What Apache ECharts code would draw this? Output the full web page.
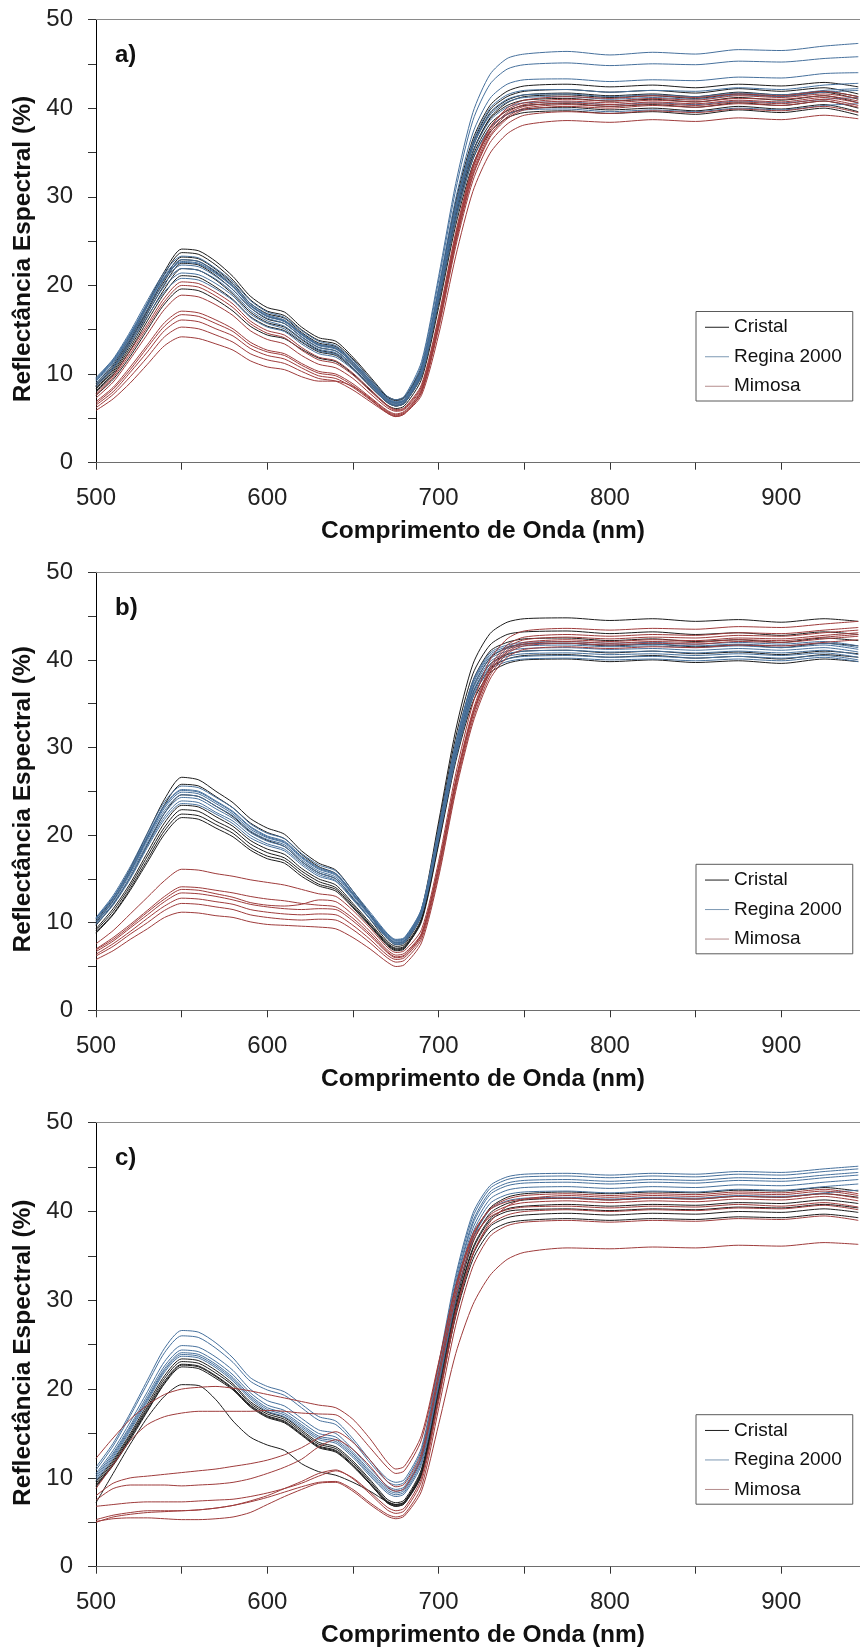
<!DOCTYPE html>
<html>
<head>
<meta charset="utf-8">
<title>Reflectância Espectral</title>
<script src="https://cdn.jsdelivr.net/npm/echarts@6/dist/echarts.min.js"></script>
<style>
    html, body { margin: 0; padding: 0; background: #fff; }
    #main { width: 860px; height: 1650px; }
</style>
</head>
<body>
<div id="main"></div>
<script>
// comprimentos de onda (nm)
var wl = [500, 510, 520, 530, 540, 550, 560, 570, 580, 590, 600, 610, 620, 630, 640, 650, 660, 670, 675, 680,
    690, 700, 710, 720, 730, 740, 750, 775, 800, 825, 850, 875, 900, 925, 945];

var xTicks = [500, 550, 600, 650, 700, 750, 800, 850, 900];
var xLabels = [500, 600, 700, 800, 900];
var yLabels = [0, 10, 20, 30, 40, 50];
var names = ['Cristal', 'Regina 2000', 'Mimosa'];
var panelLabels = ['a)', 'b)', 'c)'];

// a)
var aCristal = [
    [8.9, 11.1, 14.3, 18.0, 21.6, 24.1, 23.9, 22.7, 21.0, 18.8, 17.5, 17.0, 15.3, 14.1, 13.7, 11.9, 9.7, 7.5, 7.1, 7.4, 10.8, 19.5, 29.5, 36.5, 40.3, 41.9, 42.5, 42.7, 42.4, 42.6, 42.3, 42.7, 42.5, 42.9, 42.4],
    [8.7, 10.9, 14.0, 17.7, 21.3, 23.7, 23.5, 22.3, 20.6, 18.4, 17.1, 16.6, 15.0, 13.8, 13.4, 11.7, 9.5, 7.4, 7.0, 7.3, 10.6, 19.2, 29.0, 36.0, 39.8, 41.3, 41.9, 42.1, 41.8, 42.0, 41.7, 42.2, 41.9, 42.3, 41.6],
    [8.6, 10.7, 13.8, 17.3, 20.8, 23.2, 23.0, 21.8, 20.2, 18.0, 16.8, 16.3, 14.7, 13.5, 13.1, 11.4, 9.3, 7.2, 6.8, 7.1, 10.4, 18.9, 28.6, 35.6, 39.4, 40.9, 41.5, 41.7, 41.4, 41.6, 41.3, 41.8, 41.5, 41.9, 41.3],
    [8.4, 10.5, 13.6, 17.1, 20.5, 22.9, 22.7, 21.5, 19.9, 17.8, 16.5, 16.0, 14.5, 13.3, 12.9, 11.2, 9.1, 7.1, 6.7, 7.0, 10.2, 18.6, 28.2, 35.1, 38.8, 40.3, 40.9, 41.1, 40.8, 41.0, 40.7, 41.2, 40.9, 41.4, 40.6],
    [8.3, 10.3, 13.3, 16.8, 20.1, 22.5, 22.3, 21.1, 19.5, 17.5, 16.2, 15.7, 14.2, 13.0, 12.6, 11.0, 8.9, 6.9, 6.5, 6.8, 10.0, 18.3, 27.8, 34.6, 38.2, 39.7, 40.3, 40.5, 40.2, 40.4, 40.1, 40.6, 40.3, 40.8, 40.0],
    [8.1, 10.1, 13.0, 16.4, 19.6, 21.9, 21.7, 20.6, 19.0, 17.0, 15.8, 15.3, 13.9, 12.7, 12.3, 10.7, 8.7, 6.8, 6.4, 6.7, 9.8, 18.0, 27.4, 34.2, 37.8, 39.3, 39.9, 40.1, 39.8, 40.0, 39.7, 40.2, 39.9, 40.4, 39.6],
    [7.6, 9.4, 12.0, 15.0, 17.9, 19.6, 19.4, 18.4, 17.1, 15.4, 14.4, 14.0, 12.8, 11.8, 11.4, 10.0, 8.2, 6.5, 6.1, 6.4, 9.4, 17.5, 26.8, 33.6, 37.3, 38.9, 39.5, 39.7, 39.4, 39.6, 39.3, 39.8, 39.5, 40.0, 39.2],
    [8.0, 9.9, 12.7, 16.0, 19.1, 21.1, 20.9, 19.8, 18.4, 16.5, 15.4, 14.9, 13.6, 12.5, 12.1, 10.6, 8.6, 6.8, 6.4, 6.7, 9.9, 18.4, 28.0, 35.0, 38.9, 40.6, 41.3, 41.5, 41.2, 41.4, 41.1, 41.6, 41.3, 41.8, 41.0]
];
var aRegina = [
    [9.6, 11.7, 14.8, 18.3, 21.5, 23.3, 23.1, 21.9, 20.4, 18.3, 17.0, 16.4, 14.9, 13.7, 13.2, 11.6, 9.5, 7.5, 7.1, 7.5, 11.4, 21.0, 31.5, 39.5, 43.8, 45.6, 46.1, 46.4, 46.0, 46.3, 46.1, 46.6, 46.5, 47.0, 47.3],
    [9.5, 11.6, 14.6, 18.0, 21.2, 22.9, 22.7, 21.6, 20.1, 18.0, 16.7, 16.1, 14.6, 13.4, 13.0, 11.4, 9.3, 7.3, 6.9, 7.3, 11.1, 20.5, 30.8, 38.6, 42.7, 44.4, 44.9, 45.1, 44.8, 45.0, 44.9, 45.3, 45.2, 45.6, 45.8],
    [9.3, 11.4, 14.4, 17.8, 20.9, 22.6, 22.4, 21.3, 19.8, 17.7, 16.5, 15.9, 14.4, 13.2, 12.8, 11.2, 9.1, 7.2, 6.8, 7.1, 10.7, 19.8, 29.8, 37.2, 41.1, 42.7, 43.2, 43.3, 43.0, 43.2, 43.1, 43.5, 43.4, 43.9, 44.0],
    [9.2, 11.3, 14.2, 17.6, 20.7, 22.3, 22.1, 21.0, 19.5, 17.5, 16.3, 15.7, 14.2, 13.0, 12.6, 11.0, 9.0, 7.1, 6.7, 7.0, 10.4, 19.3, 29.0, 36.2, 40.0, 41.5, 42.0, 42.1, 41.8, 42.0, 41.9, 42.3, 42.1, 42.6, 42.8],
    [9.0, 11.1, 14.0, 17.3, 20.3, 21.9, 21.7, 20.7, 19.2, 17.2, 16.0, 15.4, 14.0, 12.8, 12.4, 10.9, 8.9, 7.0, 6.6, 6.9, 10.2, 19.0, 28.6, 35.8, 39.5, 41.0, 41.5, 41.6, 41.3, 41.5, 41.3, 41.7, 41.5, 42.0, 42.2],
    [8.8, 10.8, 13.7, 16.9, 19.9, 21.4, 21.2, 20.2, 18.8, 16.8, 15.7, 15.1, 13.7, 12.6, 12.2, 10.7, 8.8, 6.9, 6.5, 6.8, 10.0, 18.6, 28.0, 35.0, 38.6, 40.1, 40.6, 40.7, 40.4, 40.6, 40.4, 40.8, 40.6, 41.0, 41.2],
    [8.6, 10.6, 13.4, 16.5, 19.3, 20.8, 20.6, 19.6, 18.3, 16.4, 15.3, 14.8, 13.4, 12.3, 11.9, 10.5, 8.6, 6.8, 6.4, 6.7, 9.8, 18.2, 27.4, 34.3, 37.8, 39.3, 39.8, 39.9, 39.6, 39.8, 39.6, 40.0, 39.8, 40.3, 40.5],
    [9.4, 11.5, 14.5, 17.9, 21.0, 22.7, 22.5, 21.4, 19.9, 17.8, 16.6, 16.0, 14.5, 13.3, 12.9, 11.3, 9.2, 7.2, 6.8, 7.1, 10.3, 19.0, 28.5, 35.6, 39.2, 40.7, 41.2, 41.3, 41.0, 41.2, 41.0, 41.5, 41.3, 41.8, 42.0]
];
var aMimosa = [
    [7.8, 9.8, 12.6, 15.6, 18.6, 20.4, 20.2, 19.2, 17.9, 16.0, 14.9, 14.4, 13.0, 11.9, 11.5, 10.1, 8.3, 6.5, 6.0, 6.2, 8.8, 16.5, 26.0, 33.5, 37.8, 39.8, 40.6, 41.0, 40.8, 41.1, 40.9, 41.4, 41.2, 41.6, 41.1],
    [7.6, 9.6, 12.3, 15.3, 18.2, 20.0, 19.8, 18.8, 17.5, 15.7, 14.6, 14.1, 12.7, 11.6, 11.2, 9.9, 8.1, 6.4, 5.9, 6.1, 8.6, 16.2, 25.7, 33.2, 37.5, 39.5, 40.4, 40.8, 40.6, 40.9, 40.7, 41.1, 41.0, 41.4, 40.8],
    [7.3, 9.1, 11.7, 14.5, 17.3, 18.9, 18.7, 17.8, 16.6, 14.9, 13.9, 13.4, 12.1, 11.1, 10.7, 9.5, 7.8, 6.2, 5.8, 6.0, 8.4, 15.9, 25.3, 32.8, 37.2, 39.3, 40.2, 40.6, 40.4, 40.7, 40.5, 40.9, 40.7, 41.2, 40.6],
    [6.9, 8.5, 10.8, 13.3, 15.8, 17.1, 16.9, 16.1, 15.1, 13.6, 12.7, 12.3, 11.2, 10.3, 10.0, 8.9, 7.4, 5.9, 5.5, 5.8, 8.2, 15.6, 25.0, 32.5, 36.9, 39.0, 40.0, 40.4, 40.2, 40.5, 40.3, 40.7, 40.5, 41.0, 40.3],
    [6.7, 8.3, 10.5, 13.0, 15.4, 16.7, 16.5, 15.7, 14.8, 13.3, 12.5, 12.1, 11.0, 10.1, 9.8, 8.7, 7.3, 5.8, 5.4, 5.7, 8.1, 15.4, 24.8, 32.3, 36.7, 38.8, 39.8, 40.2, 40.0, 40.3, 40.1, 40.5, 40.3, 40.8, 40.1],
    [6.5, 8.0, 10.2, 12.5, 14.9, 16.1, 15.9, 15.1, 14.3, 12.9, 12.1, 11.7, 10.7, 9.8, 9.5, 8.5, 7.1, 5.7, 5.3, 5.6, 7.9, 15.1, 24.4, 31.8, 36.1, 38.2, 39.2, 39.6, 39.4, 39.7, 39.5, 39.9, 39.7, 40.2, 39.5],
    [6.2, 7.7, 9.7, 11.9, 14.2, 15.3, 15.1, 14.4, 13.6, 12.3, 11.6, 11.2, 10.3, 9.5, 9.2, 8.2, 6.9, 5.6, 5.2, 5.5, 7.6, 14.4, 23.3, 30.6, 34.9, 37.1, 38.1, 38.6, 38.4, 38.7, 38.5, 38.9, 38.7, 39.2, 38.8],
    [5.9, 7.2, 9.0, 11.1, 13.2, 14.2, 14.0, 13.4, 12.7, 11.5, 10.8, 10.5, 9.7, 9.2, 9.2, 8.6, 7.2, 5.6, 5.2, 5.5, 7.9, 15.6, 25.4, 33.2, 37.8, 40.0, 40.9, 41.3, 41.1, 41.4, 41.2, 41.6, 41.4, 41.9, 41.3]
];

// b)
var bCristal = [
    [10.2, 12.8, 16.2, 20.2, 24.1, 26.6, 26.3, 25.0, 23.7, 21.9, 20.8, 20.1, 18.2, 16.8, 16.0, 13.6, 11.0, 8.4, 7.7, 7.9, 11.5, 21.5, 32.0, 39.5, 43.0, 44.3, 44.7, 44.8, 44.5, 44.7, 44.4, 44.6, 44.3, 44.7, 44.4],
    [10.0, 12.5, 15.8, 19.7, 23.5, 25.8, 25.6, 24.4, 23.1, 21.4, 20.3, 19.6, 17.8, 16.4, 15.6, 13.3, 10.8, 8.2, 7.5, 7.7, 11.2, 21.0, 31.2, 38.4, 41.7, 42.9, 43.2, 43.3, 43.0, 43.2, 42.9, 43.1, 42.8, 43.2, 42.9],
    [9.3, 11.6, 14.5, 18.0, 21.4, 23.4, 23.2, 22.1, 21.0, 19.4, 18.4, 17.8, 16.2, 15.0, 14.3, 12.2, 10.0, 7.7, 7.1, 7.3, 10.5, 19.5, 29.2, 36.2, 39.5, 40.6, 41.0, 41.1, 40.8, 41.0, 40.7, 40.9, 40.6, 41.0, 40.7],
    [9.1, 11.3, 14.2, 17.6, 20.9, 22.9, 22.7, 21.6, 20.6, 19.0, 18.0, 17.4, 15.9, 14.7, 14.0, 12.0, 9.8, 7.6, 7.0, 7.2, 10.3, 19.2, 28.8, 35.7, 39.0, 40.1, 40.5, 40.6, 40.3, 40.5, 40.2, 40.4, 40.1, 40.6, 40.3],
    [8.9, 11.0, 13.9, 17.2, 20.5, 22.4, 22.2, 21.2, 20.2, 18.6, 17.6, 17.1, 15.6, 14.4, 13.8, 11.8, 9.7, 7.5, 6.9, 7.1, 10.1, 18.9, 28.4, 35.2, 38.5, 39.6, 40.0, 40.1, 39.8, 40.0, 39.7, 39.9, 39.6, 40.1, 39.8],
    [8.8, 10.9, 13.7, 16.9, 20.1, 22.0, 21.8, 20.8, 19.8, 18.3, 17.3, 16.8, 15.3, 14.2, 13.6, 11.7, 9.6, 7.4, 6.8, 7.0, 10.3, 19.6, 29.6, 36.8, 40.2, 41.4, 41.8, 41.9, 41.6, 41.8, 41.5, 41.7, 41.4, 41.9, 41.6],
    [9.7, 12.1, 15.2, 18.9, 22.5, 24.6, 24.4, 23.3, 22.1, 20.4, 19.4, 18.7, 17.0, 15.7, 15.0, 12.8, 10.4, 7.9, 7.3, 7.5, 10.9, 20.3, 30.4, 37.6, 41.0, 42.0, 42.4, 42.5, 42.2, 42.4, 42.1, 42.3, 42.0, 42.5, 42.2]
];
var bRegina = [
    [10.6, 13.1, 16.4, 20.2, 23.8, 25.6, 25.4, 24.3, 23.1, 21.3, 20.2, 19.6, 17.9, 16.6, 15.9, 13.6, 11.2, 8.8, 8.1, 8.3, 11.6, 20.8, 30.6, 37.6, 40.8, 41.7, 42.0, 42.1, 41.9, 42.0, 41.8, 42.0, 41.8, 42.1, 41.6],
    [10.5, 12.9, 16.1, 19.9, 23.4, 25.2, 25.0, 23.9, 22.7, 21.0, 19.9, 19.3, 17.6, 16.3, 15.6, 13.4, 11.0, 8.7, 8.0, 8.2, 11.4, 20.5, 30.2, 37.2, 40.4, 41.3, 41.6, 41.7, 41.5, 41.6, 41.4, 41.6, 41.4, 41.7, 41.2],
    [10.4, 12.8, 15.9, 19.6, 23.1, 24.9, 24.7, 23.6, 22.4, 20.7, 19.7, 19.1, 17.4, 16.1, 15.4, 13.2, 10.9, 8.6, 7.9, 8.1, 11.3, 20.3, 29.9, 36.9, 40.1, 41.0, 41.3, 41.4, 41.2, 41.3, 41.1, 41.3, 41.1, 41.4, 40.9],
    [10.2, 12.6, 15.7, 19.4, 22.8, 24.6, 24.4, 23.3, 22.2, 20.5, 19.5, 18.9, 17.2, 15.9, 15.2, 13.1, 10.8, 8.5, 7.8, 8.0, 11.1, 20.1, 29.6, 36.6, 39.8, 40.7, 41.0, 41.1, 40.9, 41.0, 40.8, 41.0, 40.8, 41.1, 40.6],
    [10.1, 12.4, 15.5, 19.1, 22.5, 24.3, 24.1, 23.0, 21.9, 20.3, 19.3, 18.7, 17.0, 15.7, 15.0, 12.9, 10.7, 8.4, 7.7, 7.9, 11.0, 19.9, 29.3, 36.3, 39.5, 40.4, 40.7, 40.8, 40.6, 40.7, 40.5, 40.7, 40.5, 40.8, 40.3],
    [9.9, 12.2, 15.2, 18.8, 22.1, 23.9, 23.7, 22.6, 21.6, 20.0, 19.0, 18.4, 16.8, 15.5, 14.8, 12.7, 10.5, 8.3, 7.6, 7.8, 10.9, 19.7, 29.0, 36.0, 39.2, 40.1, 40.4, 40.5, 40.3, 40.4, 40.2, 40.4, 40.2, 40.5, 40.0],
    [9.8, 12.0, 15.0, 18.6, 21.8, 23.6, 23.4, 22.4, 21.3, 19.7, 18.8, 18.2, 16.6, 15.3, 14.7, 12.6, 10.4, 8.2, 7.5, 7.7, 10.8, 19.5, 28.7, 35.7, 38.9, 39.8, 40.1, 40.2, 40.0, 40.1, 39.9, 40.1, 39.9, 40.3, 39.8],
    [10.5, 12.9, 16.0, 19.8, 23.3, 25.1, 24.9, 23.8, 22.6, 20.9, 19.8, 19.2, 17.5, 16.2, 15.5, 13.3, 11.0, 8.7, 8.0, 8.2, 11.5, 20.6, 30.4, 37.4, 40.6, 41.5, 41.8, 41.9, 41.7, 41.8, 41.6, 41.8, 41.6, 41.9, 41.4]
];
var bMimosa = [
    [7.6, 9.1, 11.0, 12.9, 14.8, 16.1, 16.0, 15.6, 15.3, 14.9, 14.6, 14.3, 13.8, 13.3, 13.0, 11.4, 9.4, 7.2, 6.6, 6.8, 9.2, 17.0, 27.0, 35.0, 40.0, 42.4, 43.3, 43.6, 43.4, 43.6, 43.5, 43.8, 43.7, 44.1, 44.4],
    [7.0, 8.3, 9.8, 11.4, 13.0, 14.1, 14.0, 13.7, 13.4, 13.0, 12.7, 12.5, 12.2, 12.0, 11.8, 10.5, 8.7, 6.7, 6.1, 6.3, 8.7, 16.4, 26.3, 34.2, 39.2, 41.7, 42.6, 42.9, 42.7, 42.9, 42.8, 43.1, 43.0, 43.4, 43.7],
    [6.7, 7.9, 9.4, 10.9, 12.4, 13.4, 13.3, 13.0, 12.6, 12.1, 11.8, 11.6, 11.5, 11.6, 11.5, 10.2, 8.5, 6.6, 6.0, 6.2, 8.6, 16.2, 26.0, 33.9, 38.9, 41.4, 42.3, 42.6, 42.4, 42.6, 42.5, 42.8, 42.7, 43.1, 43.4],
    [6.4, 7.6, 9.0, 10.5, 11.9, 12.8, 12.7, 12.4, 12.1, 11.5, 11.2, 11.0, 10.9, 11.0, 10.9, 9.7, 8.1, 6.3, 5.8, 6.0, 8.4, 16.0, 25.8, 33.6, 38.6, 41.1, 42.0, 42.3, 42.1, 42.3, 42.2, 42.5, 42.4, 42.8, 43.1],
    [6.2, 7.3, 8.7, 10.0, 11.4, 12.2, 12.1, 11.8, 11.5, 10.9, 10.6, 10.4, 10.3, 10.4, 10.3, 9.2, 7.7, 6.0, 5.5, 5.7, 8.1, 15.6, 25.4, 33.2, 38.2, 40.7, 41.6, 41.9, 41.7, 41.9, 41.8, 42.1, 42.0, 42.4, 42.7],
    [5.8, 6.8, 8.1, 9.3, 10.6, 11.2, 11.1, 10.8, 10.6, 10.1, 9.8, 9.7, 9.6, 9.5, 9.3, 8.3, 7.0, 5.5, 5.0, 5.2, 7.7, 15.2, 25.0, 32.8, 37.8, 40.3, 41.2, 41.5, 41.3, 41.5, 41.4, 41.7, 41.6, 42.0, 42.3],
    [6.9, 8.1, 9.6, 11.2, 12.7, 13.8, 13.7, 13.3, 12.9, 12.3, 12.0, 11.9, 12.1, 12.6, 12.4, 10.9, 9.0, 6.9, 6.3, 6.5, 8.8, 16.4, 26.1, 33.8, 38.6, 40.9, 41.8, 42.1, 41.9, 42.1, 42.0, 42.3, 42.2, 42.6, 42.9]
];

// c)
var cCristal = [
    [9.6, 12.0, 15.0, 18.3, 21.5, 23.4, 23.2, 22.1, 20.6, 18.6, 17.4, 16.8, 15.4, 14.0, 13.5, 11.9, 9.8, 7.6, 7.2, 7.5, 11.0, 20.3, 30.0, 37.0, 40.4, 41.6, 42.0, 42.2, 42.0, 42.2, 42.1, 42.4, 42.3, 42.7, 42.3],
    [9.4, 11.8, 14.8, 18.0, 21.2, 23.1, 22.9, 21.8, 20.4, 18.4, 17.2, 16.6, 15.2, 13.8, 13.3, 11.7, 9.6, 7.4, 7.0, 7.3, 10.8, 20.0, 29.6, 36.5, 39.8, 40.9, 41.3, 41.5, 41.3, 41.5, 41.4, 41.7, 41.6, 42.0, 41.6],
    [9.2, 11.6, 14.6, 17.8, 20.9, 22.8, 22.6, 21.5, 20.1, 18.2, 17.0, 16.4, 15.0, 13.6, 13.1, 11.5, 9.4, 7.3, 6.9, 7.2, 10.6, 19.7, 29.2, 35.9, 39.2, 40.3, 40.6, 40.8, 40.6, 40.8, 40.7, 41.0, 40.9, 41.3, 40.9],
    [9.0, 11.4, 14.3, 17.5, 20.6, 22.5, 22.3, 21.2, 19.9, 18.0, 16.8, 16.2, 14.8, 13.4, 12.9, 11.3, 9.3, 7.2, 6.8, 7.1, 10.4, 19.3, 28.6, 35.1, 38.3, 39.3, 39.6, 39.8, 39.6, 39.8, 39.7, 40.0, 39.9, 40.3, 39.9],
    [7.2, 10.5, 13.8, 16.8, 19.2, 20.5, 20.4, 18.8, 16.4, 14.6, 13.7, 13.1, 11.6, 10.7, 10.3, 9.5, 8.5, 7.3, 7.0, 7.3, 10.5, 19.5, 29.0, 35.7, 39.0, 40.0, 40.2, 40.3, 40.1, 40.3, 40.2, 40.5, 40.4, 40.8, 40.4],
    [9.1, 11.5, 14.5, 17.6, 20.7, 22.7, 22.5, 21.4, 20.0, 18.1, 16.9, 16.3, 14.9, 13.5, 13.0, 11.4, 9.3, 7.2, 6.8, 7.1, 10.3, 19.0, 28.2, 34.6, 37.7, 38.7, 39.0, 39.2, 39.0, 39.2, 39.1, 39.4, 39.3, 39.7, 39.3]
];
var cRegina = [
    [11.2, 13.9, 17.3, 21.0, 24.6, 26.6, 26.4, 25.2, 23.5, 21.3, 20.3, 19.7, 18.3, 16.9, 16.4, 14.4, 12.0, 9.9, 9.5, 9.8, 13.4, 22.8, 32.8, 39.8, 42.9, 43.9, 44.2, 44.3, 44.1, 44.3, 44.2, 44.5, 44.4, 44.8, 45.1],
    [10.9, 13.6, 17.0, 20.6, 24.1, 26.0, 25.8, 24.6, 23.0, 20.9, 19.9, 19.3, 17.9, 16.5, 16.0, 14.1, 11.7, 9.6, 9.2, 9.5, 13.1, 22.4, 32.4, 39.4, 42.6, 43.6, 43.9, 44.0, 43.8, 44.0, 43.9, 44.2, 44.1, 44.5, 44.8],
    [10.3, 12.8, 15.9, 19.3, 22.6, 24.4, 24.2, 23.1, 21.6, 19.6, 18.2, 17.6, 16.3, 15.0, 14.6, 12.9, 10.8, 8.9, 8.5, 8.8, 12.4, 21.6, 31.6, 38.6, 41.9, 42.9, 43.2, 43.3, 43.1, 43.3, 43.2, 43.5, 43.4, 43.8, 44.1],
    [10.1, 12.6, 15.7, 19.0, 22.3, 24.1, 23.9, 22.8, 21.3, 19.3, 17.9, 17.3, 16.0, 14.7, 14.3, 12.7, 10.6, 8.7, 8.3, 8.6, 12.1, 21.2, 31.1, 38.1, 41.4, 42.4, 42.7, 42.8, 42.6, 42.8, 42.7, 43.0, 42.9, 43.3, 43.6],
    [9.9, 12.4, 15.5, 18.8, 22.1, 23.9, 23.7, 22.6, 21.1, 19.1, 17.7, 17.1, 15.8, 14.5, 14.1, 12.5, 10.4, 8.5, 8.1, 8.4, 11.8, 20.8, 30.6, 37.6, 40.9, 41.9, 42.2, 42.3, 42.1, 42.3, 42.2, 42.5, 42.4, 42.8, 43.1],
    [9.7, 12.2, 15.3, 18.6, 21.9, 23.7, 23.5, 22.4, 20.9, 18.9, 17.5, 16.9, 15.6, 14.3, 13.9, 12.3, 10.2, 8.3, 7.9, 8.2, 11.5, 20.4, 30.0, 36.9, 40.2, 41.2, 41.5, 41.6, 41.4, 41.6, 41.5, 41.8, 41.7, 42.1, 42.4],
    [10.5, 13.1, 16.3, 19.7, 23.1, 24.9, 24.7, 23.6, 22.1, 20.0, 18.7, 18.1, 16.7, 15.4, 15.0, 13.2, 11.1, 9.1, 8.7, 9.0, 12.6, 21.9, 31.9, 38.9, 42.2, 43.2, 43.5, 43.6, 43.4, 43.6, 43.5, 43.8, 43.7, 44.1, 44.4]
];
var cMimosa = [
    [12.2, 14.5, 16.6, 18.2, 19.4, 20.0, 20.2, 20.3, 20.1, 19.8, 19.4, 19.0, 18.6, 18.2, 17.9, 16.6, 14.4, 11.8, 11.0, 11.3, 14.8, 23.0, 31.5, 37.0, 39.4, 40.2, 40.5, 40.6, 40.4, 40.6, 40.5, 40.8, 40.6, 41.0, 40.5],
    [8.8, 11.5, 14.2, 16.0, 16.9, 17.3, 17.5, 17.5, 17.5, 17.5, 17.6, 17.5, 17.3, 17.2, 17.1, 15.6, 13.4, 11.2, 10.5, 10.8, 14.3, 22.8, 31.6, 37.5, 40.2, 41.1, 41.4, 41.5, 41.3, 41.5, 41.4, 41.7, 41.6, 42.0, 41.5],
    [8.0, 9.4, 10.0, 10.2, 10.4, 10.6, 10.8, 11.0, 11.3, 11.6, 12.0, 12.6, 13.4, 14.5, 15.2, 14.0, 12.0, 9.6, 9.0, 9.3, 12.8, 21.8, 31.0, 37.3, 40.3, 41.4, 41.8, 42.0, 41.8, 42.0, 41.9, 42.2, 42.1, 42.5, 42.0],
    [7.5, 8.8, 9.2, 9.2, 9.2, 9.1, 9.2, 9.3, 9.5, 9.9, 10.5, 11.2, 12.1, 13.5, 14.3, 13.2, 11.3, 9.0, 8.5, 8.8, 12.3, 21.2, 30.4, 36.6, 39.6, 40.6, 41.0, 41.2, 41.0, 41.2, 41.1, 41.4, 41.3, 41.7, 41.2],
    [6.8, 7.0, 7.2, 7.3, 7.3, 7.3, 7.4, 7.5, 7.6, 7.9, 8.3, 8.8, 9.4, 10.2, 10.8, 10.0, 8.4, 6.7, 6.3, 6.6, 10.0, 19.2, 28.8, 35.2, 38.5, 39.6, 40.0, 40.2, 40.0, 40.2, 40.1, 40.4, 40.3, 40.7, 40.2],
    [5.0, 5.6, 5.9, 6.1, 6.2, 6.3, 6.4, 6.6, 6.9, 7.3, 7.8, 8.4, 9.0, 9.5, 9.6, 8.7, 7.2, 5.9, 5.6, 5.9, 9.0, 17.8, 27.2, 33.8, 37.2, 38.4, 38.8, 39.0, 38.8, 39.0, 38.9, 39.2, 39.1, 39.5, 39.0],
    [5.1, 5.4, 5.5, 5.5, 5.4, 5.3, 5.3, 5.4, 5.6, 6.1, 7.0, 7.9, 8.7, 9.4, 9.5, 8.5, 7.0, 5.7, 5.4, 5.7, 8.5, 16.0, 24.0, 29.5, 32.8, 34.6, 35.4, 35.9, 35.8, 36.0, 35.9, 36.2, 36.1, 36.5, 36.3],
    [5.3, 5.8, 6.1, 6.3, 6.3, 6.3, 6.4, 6.6, 6.9, 7.4, 8.0, 8.8, 9.6, 10.5, 10.9, 9.9, 8.2, 6.4, 6.0, 6.3, 9.6, 18.6, 28.4, 35.2, 38.8, 40.6, 41.4, 41.8, 41.6, 41.8, 41.7, 42.0, 41.9, 42.3, 41.8]
];

var panels = [
    [aCristal, aRegina, aMimosa],
    [bCristal, bRegina, bMimosa],
    [cCristal, cRegina, cMimosa]
];
var colors = ['#1c1c1c', '#46709c', '#9e3b3b'];
var legendColors = ['#1c1c1c', '#7d98b3', '#b48c8c'];

// posicao de cada grafico (topo e altura da area de plotagem)
var panelTop = [19.5, 572.3, 1122.7];
var panelHeight = [443.2, 438, 444];
var fontFamily = '"Liberation Sans", Arial, sans-serif';

var chart = echarts.init(document.getElementById('main'), null, {renderer: 'canvas'});

var grid = [], xAxis = [], yAxis = [], series = [], legend = [], graphic = [];
var topAxis = [];
for (var p = 0; p < 3; p++) {
    grid.push({left: 96, right: 0, top: panelTop[p], height: panelHeight[p], show: false});
    xAxis.push({
        type: 'value', gridIndex: p, min: 500, max: 946,
        name: 'Comprimento de Onda (nm)', nameLocation: 'middle', nameGap: 56,
        nameTextStyle: {fontFamily: fontFamily, fontSize: 24.5, fontWeight: 'bold', color: '#111', padding: [0, 0, 0, 10]},
        axisLine: {lineStyle: {color: '#6e6e6e', width: 1}},
        axisTick: {length: 7, customValues: xTicks, lineStyle: {color: '#333'}},
        axisLabel: {
            margin: 24, fontFamily: fontFamily, fontSize: 24, color: '#222', customValues: xLabels,
            formatter: function (v) { return xLabels.indexOf(v) > -1 ? String(v) : ''; }
        },
        splitLine: {show: false}
    });
    // linha de cima da area de plotagem
    topAxis.push({
        type: 'value', gridIndex: p, min: 500, max: 946, position: 'top',
        axisLine: {lineStyle: {color: '#8a8a8a', width: 1}},
        axisTick: {show: false}, axisLabel: {show: false}, splitLine: {show: false}
    });
    yAxis.push({
        type: 'value', gridIndex: p, min: 0, max: 50, interval: 5,
        name: 'Reflectância Espectral (%)', nameLocation: 'middle', nameGap: 54,
        nameTextStyle: {fontFamily: fontFamily, fontSize: 24.5, fontWeight: 'bold', color: '#111', padding: [0, 16, 0, 0]},
        axisLine: {lineStyle: {color: '#000', width: 1}},
        axisTick: {length: 8, lineStyle: {color: '#333'}},
        axisLabel: {
            margin: 23, fontFamily: fontFamily, fontSize: 24, color: '#222',
            formatter: function (v) { return yLabels.indexOf(v) > -1 ? String(v) : ''; }
        },
        splitLine: {show: false}
    });
    for (var g = 0; g < 3; g++) {
        var curves = panels[p][g];
        for (var k = 0; k < curves.length; k++) {
            var pts = [];
            for (var i = 0; i < wl.length; i++) {
                pts.push([wl[i], curves[k][i]]);
            }
            series.push({
                type: 'line', name: names[g], xAxisIndex: p, yAxisIndex: p,
                data: pts, symbol: 'none', showSymbol: false, smooth: 0.25,
                color: colors[g], lineStyle: {width: 1, color: colors[g]},
                silent: true, animation: false
            });
        }
    }
    legend.push({
        data: names.map(function (n, j) { return {name: n, icon: 'rect', itemStyle: {color: legendColors[j]}}; }),
        orient: 'vertical', left: 696, top: panelTop[p] + 292,
        itemWidth: 24, itemHeight: 1, itemGap: 10,
        padding: [6, 11, 5, 9],
        backgroundColor: '#fff', borderColor: '#5a5a5a', borderWidth: 1,
        textStyle: {fontFamily: fontFamily, fontSize: 19, color: '#111', lineHeight: 19.5},
        selectedMode: false
    });
    graphic.push({
        type: 'text', left: 115, top: panelTop[p] + 24,
        style: {text: panelLabels[p], font: 'bold 24px ' + fontFamily, fill: '#111'}
    });
}

chart.setOption({
    animation: false,
    grid: grid,
    xAxis: xAxis.concat(topAxis),
    yAxis: yAxis,
    legend: legend,
    graphic: graphic,
    series: series
});
</script>
</body>
</html>
